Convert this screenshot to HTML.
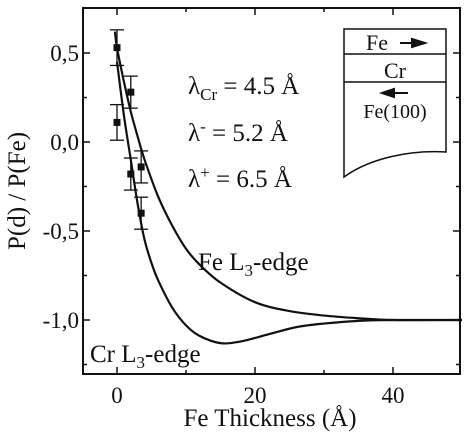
<!DOCTYPE html>
<html><head><meta charset="utf-8"><style>
body{margin:0;background:#fff;}
svg text{font-family:"Liberation Serif",serif;fill:#111;}
</style></head><body>
<svg id="chart" width="468" height="438">
<g id="g"></g>
</svg>
<script>
const xTicks=[0,20,40];
const xTickLabels=["0","20","40"];
const yTicks=[0.5,0,-0.5,-1];
const yTickLabels=["0,5","0,0","-0,5","-1,0"];
const ptX=[0,0,2,2,3.5,3.5];
const ptY=[0.53,0.11,0.28,-0.18,-0.14,-0.4];
const ptErr=[0.1,0.1,0.09,0.09,0.09,0.09];
const feX=[-0.3,0,1,2,3,4,6,8,10,12,15,20,25,30,35,40,50];
const feY=[0.62,0.53,0.34,0.17,0.03,-0.1,-0.31,-0.47,-0.6,-0.69,-0.79,-0.9,-0.95,-0.975,-0.99,-1.0,-1.0];
const crX=[0,1,2,3,4,5,6,8,10,12,15,18,22,26,30,35,40,50];
const crY=[0.45,0.15,-0.1,-0.35,-0.55,-0.68,-0.78,-0.93,-1.03,-1.09,-1.13,-1.12,-1.08,-1.04,-1.02,-1.005,-1.0,-1.0];

const L=83,R=460,T=8,B=374;
const X=v=>117+(v)*6.9;
const Y=v=>142-v*178;
const NS="http://www.w3.org/2000/svg";
const g=document.getElementById('g');
function el(t,a,n,txt){const e=document.createElementNS(NS,t);for(const k in a)e.setAttribute(k,a[k]);


if(txt!==undefined)e.textContent=txt;g.appendChild(e);return e;}
el('rect',{x:L,y:T,width:R-L,height:B-T,fill:'none',stroke:'#111','stroke-width':2},'plot-frame');
xTicks.forEach((t,i)=>{el('line',{x1:X(t),x2:X(t),y1:B,y2:B-7,stroke:'#111','stroke-width':1.5},'x-tick');
el('line',{x1:X(t),x2:X(t),y1:T,y2:T+7,stroke:'#111','stroke-width':1.5},'x-tick-top');
el('text',{x:X(t),y:B+29,'font-size':23,'text-anchor':'middle'},'x-tick-label',xTickLabels[i]);});
[10,30].forEach(t=>{el('line',{x1:X(t),x2:X(t),y1:B,y2:B-4,stroke:'#111','stroke-width':1.5},'x-minor-tick');el('line',{x1:X(t),x2:X(t),y1:T,y2:T+4,stroke:'#111','stroke-width':1.5},'x-minor-tick-top');});
yTicks.forEach((t,i)=>{el('line',{x1:L,x2:L+7,y1:Y(t),y2:Y(t),stroke:'#111','stroke-width':1.5},'y-tick');
el('line',{x1:R,x2:R-7,y1:Y(t),y2:Y(t),stroke:'#111','stroke-width':1.5},'y-tick-right');
el('text',{x:L-4,y:Y(t)+8,'font-size':23,'text-anchor':'end'},'y-tick-label',yTickLabels[i]);});
[0.25,-0.25,-0.75,-1.25].forEach(t=>{el('line',{x1:L,x2:L+4,y1:Y(t),y2:Y(t),stroke:'#111','stroke-width':1.5},'y-minor-tick');el('line',{x1:R,x2:R-4,y1:Y(t),y2:Y(t),stroke:'#111','stroke-width':1.5},'y-minor-tick-right');});
el('text',{x:270,y:426,'font-size':25,'text-anchor':'middle'},'x-axis-title','Fe Thickness (Å)');
el('text',{x:0,y:0,'font-size':25,'text-anchor':'middle',transform:'translate(25,191) rotate(-90)'},'y-axis-title','P(d) / P(Fe)');
function path(xs,ys){let p=[];for(let i=0;i<xs.length;i++)p.push([X(xs[i]),Y(ys[i])]);
let d='M'+p[0][0]+','+p[0][1];for(let i=0;i<p.length-1;i++){const p0=p[Math.max(0,i-1)],p1=p[i],p2=p[i+1],p3=p[Math.min(p.length-1,i+2)];
d+=` C${p1[0]+(p2[0]-p0[0])/6},${p1[1]+(p2[1]-p0[1])/6} ${p2[0]-(p3[0]-p1[0])/6},${p2[1]-(p3[1]-p1[1])/6} ${p2[0]},${p2[1]}`;}return d;}
el('path',{d:path(feX,feY),fill:'none',stroke:'#111','stroke-width':2.2},'fe-l3-curve');
el('path',{d:path(crX,crY),fill:'none',stroke:'#111','stroke-width':2.2},'cr-l3-curve');
ptX.forEach((x,i)=>{const cx=X(x),cy=Y(ptY[i]),e=ptErr[i];
el('line',{x1:cx,x2:cx,y1:Y(ptY[i]+e),y2:Y(ptY[i]-e),stroke:'#111','stroke-width':1.3},'error-bar');
el('line',{x1:cx-7,x2:cx+7,y1:Y(ptY[i]+e),y2:Y(ptY[i]+e),stroke:'#111','stroke-width':1.3},'error-cap');
el('line',{x1:cx-7,x2:cx+7,y1:Y(ptY[i]-e),y2:Y(ptY[i]-e),stroke:'#111','stroke-width':1.3},'error-cap');
el('rect',{x:cx-3.5,y:cy-3.5,width:7,height:7,fill:'#111'},'data-point');});
const t1=el('text',{x:188,y:94,'font-size':25},'lambda-cr-label');t1.innerHTML='λ<tspan font-size="17" dy="6">Cr</tspan><tspan dy="-6"> = 4.5 Å</tspan>';
const t2=el('text',{x:188,y:141,'font-size':25},'lambda-minus-label');t2.innerHTML='λ<tspan font-size="17" dy="-9">-</tspan><tspan dy="9"> = 5.2 Å</tspan>';
const t3=el('text',{x:188,y:187,'font-size':25},'lambda-plus-label');t3.innerHTML='λ<tspan font-size="17" dy="-9">+</tspan><tspan dy="9"> = 6.5 Å</tspan>';
const t4=el('text',{x:198,y:270,'font-size':25},'fe-l3-edge-label');t4.innerHTML='Fe L<tspan font-size="17" dy="6">3</tspan><tspan dy="-6">-edge</tspan>';
const t5=el('text',{x:90,y:362,'font-size':25},'cr-l3-edge-label');t5.innerHTML='Cr L<tspan font-size="17" dy="6">3</tspan><tspan dy="-6">-edge</tspan>';
// inset
el('path',{d:'M344,29 L446,29 L446,152 C410,150 370,158 344,177 Z',fill:'#fff',stroke:'#111','stroke-width':1.5},'inset-box');
el('line',{x1:344,x2:446,y1:54,y2:54,stroke:'#111','stroke-width':1.5},'inset-divider');
el('line',{x1:344,x2:446,y1:82,y2:82,stroke:'#111','stroke-width':1.5},'inset-divider');
el('text',{x:366,y:50,'font-size':22},'inset-fe-label','Fe');
el('path',{d:'M400,43 L420,43 M412,39 L425,43 L412,47 Z',stroke:'#111','stroke-width':2,fill:'#111'},'inset-arrow-right');
el('text',{x:395,y:78,'font-size':22,'text-anchor':'middle'},'inset-cr-label','Cr');
el('path',{d:'M390,93 L408,93 M394,89 L382,93 L394,97 Z',stroke:'#111','stroke-width':2,fill:'#111'},'inset-arrow-left');
el('text',{x:395,y:118,'font-size':20,'text-anchor':'middle'},'inset-substrate-label','Fe(100)');
</script>
</body></html>
